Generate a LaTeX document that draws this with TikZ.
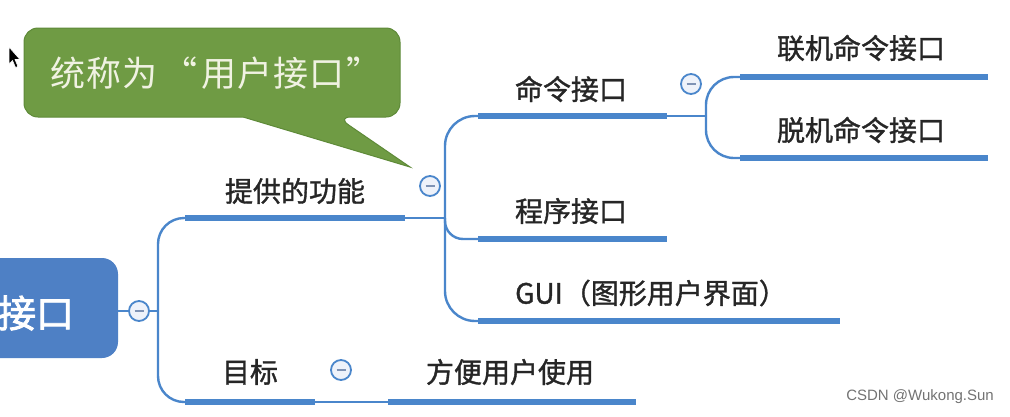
\documentclass[tikz,border=0pt]{standalone}
\usepackage{fontspec}
\newfontfamily\cjk{Noto Sans CJK SC}[FakeBold=1.2]
\newfontfamily\cjkroot{Noto Sans CJK SC}[FakeBold=2.2]
\newfontfamily\cjkl{Noto Sans CJK SC}
\newfontfamily\wmfont{Liberation Sans}
\definecolor{mblue}{HTML}{4A86CB}
\definecolor{rootblue}{HTML}{4E80C5}
\definecolor{cgreen}{HTML}{6F9B44}
\definecolor{cgreenb}{HTML}{5E8A38}
\definecolor{ctext}{HTML}{F0F2E2}
\definecolor{cfill}{HTML}{EEF2FA}
\definecolor{minusc}{HTML}{7F93B5}
\tikzset{
  topic/.style={font=\cjk\fontsize{28}{30}\selectfont, text=black!85, inner sep=0pt},
  bar/.style={draw=mblue, line width=6.5pt, line cap=butt},
  thin/.style={draw=mblue, line width=2.4pt},
  curve/.style={draw=mblue, line width=2.4pt, rounded corners=26pt},
  collapse/.style={circle, draw=mblue, line width=1.8pt, fill=cfill, minimum size=20pt, inner sep=0pt,
    path picture={\draw[minusc, line width=2.2pt] ([xshift=-4.5pt]path picture bounding box.center) -- ([xshift=4.5pt]path picture bounding box.center);}},
}
\begin{document}
\begin{tikzpicture}[x=1pt,y=-1pt]
\useasboundingbox (0,0) rectangle (1010,416);
\fill[white] (0,0) rectangle (1010,416);

% root
\node[fill=rootblue, rounded corners=16pt, minimum width=150pt, minimum height=100pt, inner sep=0pt] (root) at (43,308) {};
\node[font=\cjkroot\fontsize{38}{40}\selectfont, text=white, inner sep=0pt] (roottext) at (36,313) {接口};
\node[collapse] (c0) at (139,311) {};
\coordinate (t0) at (158,311);
\draw[thin] (root.east |- c0) -- (c0);
\draw[thin] (c0) -- (t0);

% level 1
\coordinate (g1) at (185,218); \coordinate (g2) at (405,218);
\coordinate (m1) at (185,402); \coordinate (m2) at (315,402);
\draw[curve] (t0) |- (g1);
\draw[curve] (t0) |- (m1);
\draw[bar] (g1) -- (g2);
\draw[bar] (m1) -- (m2);
\node[topic] (gtext) at (295,191) {提供的功能};
\node[topic] (mtext) at (250,372) {目标};

% 目标 child
\coordinate (f1) at (388,402); \coordinate (f2) at (636,402);
\draw[thin] (m2) -- (f1);
\draw[bar] (f1) -- (f2);
\node[collapse] (c3) at (341,370) {};
\node[topic] (ftext) at (510,372) {方便用户使用};

% 提供的功能 children
\coordinate (b1) at (445,218);
\draw[thin] (g2) -- (b1);
\node[collapse] (c1) at (430,186) {};
\coordinate (k1) at (478,116); \coordinate (k2) at (667,116);
\coordinate (p1) at (478,239); \coordinate (p2) at (667,239);
\coordinate (u1) at (478,321); \coordinate (u2) at (840,321);
\draw[curve, rounded corners=30pt] (b1) |- (k1);
\draw[curve, rounded corners=18pt] (b1) |- (p1);
\draw[curve, rounded corners=30pt] (b1) |- (u1);
\draw[bar] (k1) -- (k2);
\draw[bar] (p1) -- (p2);
\draw[bar] (u1) -- (u2);
\node[topic] (ktext) at (571,89) {命令接口};
\node[topic] (ptext) at (571,211) {程序接口};
\node[topic] (utext) at (651,293) {GUI（图形用户界面）};

% 命令接口 children
\coordinate (b2) at (706,116);
\draw[thin] (k2) -- (b2);
\node[collapse] (c2) at (691,84) {};
\coordinate (o1) at (740,77); \coordinate (o2) at (988,77);
\coordinate (x1) at (740,158); \coordinate (x2) at (988,158);
\draw[curve, rounded corners=28pt] (b2) |- (o1);
\draw[curve, rounded corners=28pt] (b2) |- (x1);
\draw[bar] (o1) -- (o2);
\draw[bar] (x1) -- (x2);
\node[topic] (otext) at (861,48) {联机命令接口};
\node[topic] (xtext) at (861,130) {脱机命令接口};

% callout
\coordinate (tip) at (410,167);
\filldraw[fill=cgreen, draw=cgreenb, line width=1pt, rounded corners=14pt]
  (24,28) -- (400,28) -- (400,117) -- (337,117) [sharp corners] -- (tip) -- (243,117) [rounded corners=14pt] -- (24,117) -- cycle;
\node[font=\cjkl\fontsize{35}{37}\selectfont, text=ctext, inner sep=0pt, anchor=west] (ctext) at (50,73) {统\kern1pt 称\kern1pt 为\kern5pt“\kern4pt 用\kern1pt 户\kern1pt 接\kern1pt 口\kern2pt”};

% cursor
\filldraw[fill=black, draw=white, line width=0.6pt] (9,47) -- (9,64) -- (12.5,60.5) -- (15.5,67.5) -- (18,66.5) -- (15,59.5) -- (20,59.5) -- cycle;

% watermark
\node[font=\wmfont\fontsize{15}{17}\selectfont, text=black!55, anchor=east, inner sep=0pt] (wm) at (994,397) {CSDN @Wukong.Sun};
\end{tikzpicture}
\end{document}
